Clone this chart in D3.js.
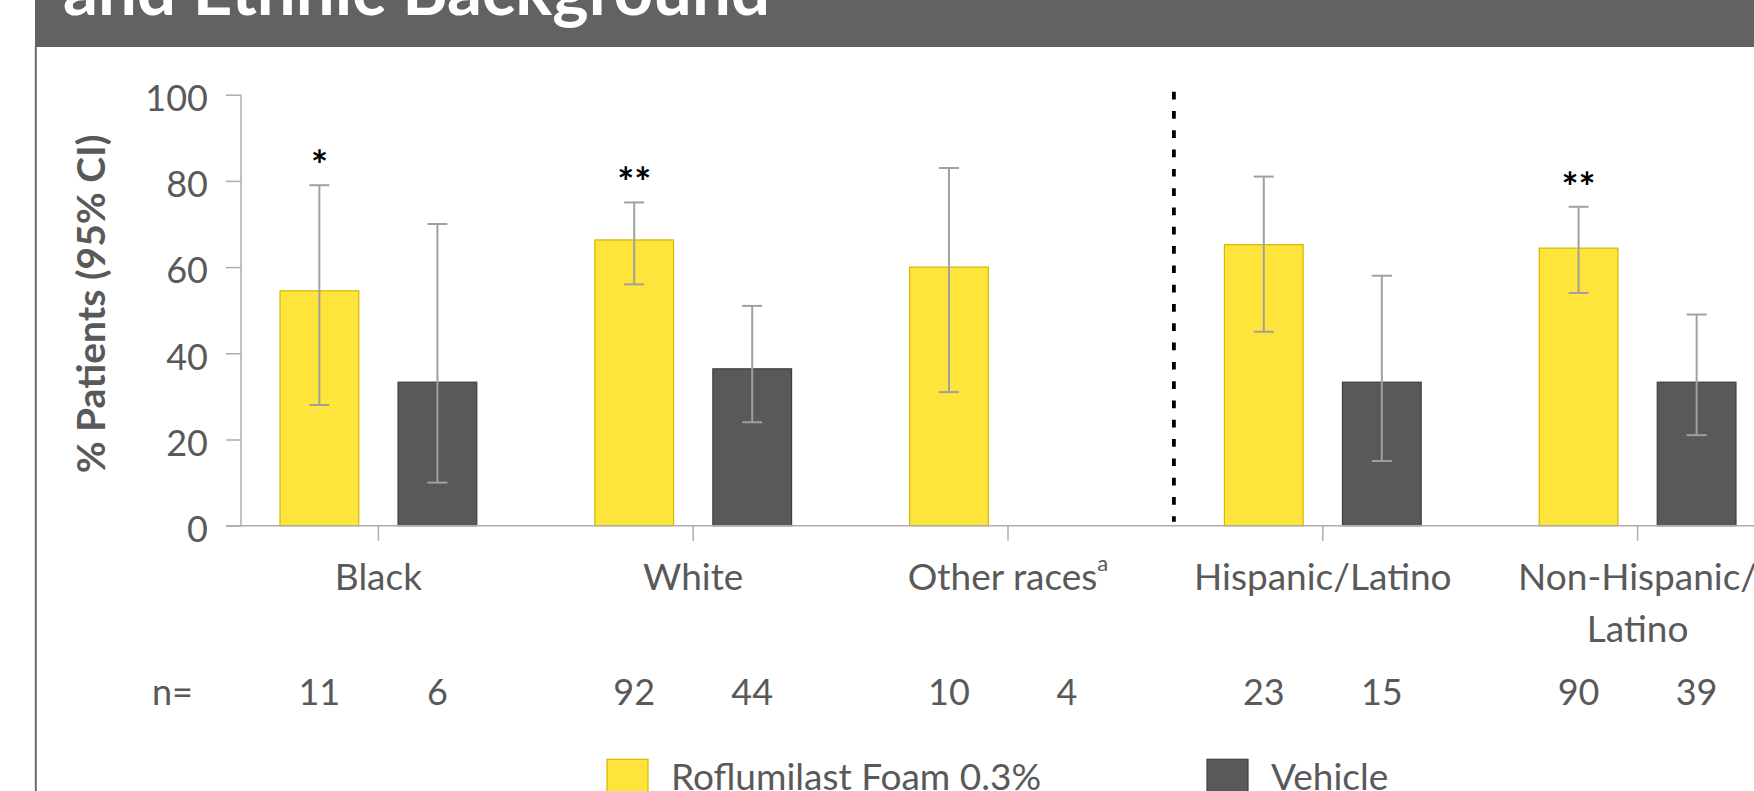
<!DOCTYPE html>
<html>
<head>
<meta charset="utf-8">
<script src="https://cdn.jsdelivr.net/npm/d3@7/dist/d3.min.js"></script>
<style>
  html, body { margin: 0; padding: 0; background: #fff; }
  svg { display: block; }
  text { font-family: Lato, "Open Sans", sans-serif; }
</style>
</head>
<body>
<svg id="chart" width="1754" height="791"></svg>
<script>
// Response rate by racial and ethnic subgroup, with 95% confidence intervals
const categories = ["Black", "White", "Other races", "Hispanic/Latino", "Non-Hispanic/Latino"];
const categoryLines = [["Black"], ["White"], ["Other races"], ["Hispanic/Latino"], ["Non-Hispanic/", "Latino"]];
const categorySuperscripts = ["", "", "a", "", ""];

const seriesNames = ["Roflumilast Foam 0.3%", "Vehicle"];
const roflumilast = [54.5, 66.3, 60.0, 65.2, 64.4];
const roflumilastLow = [28, 56, 31, 45, 54];
const roflumilastHigh = [79, 75, 83, 81, 74];
const vehicle = [33.3, 36.4, null, 33.3, 33.3];
const vehicleLow = [10, 24, null, 15, 21];
const vehicleHigh = [70, 51, null, 58, 49];

const nRoflumilast = [11, 92, 10, 23, 90];
const nVehicle = [6, 44, 4, 15, 39];
const significance = ["*", "**", "", "", "**"];

const yTicks = [0, 20, 40, 60, 80, 100];

const titleText = "and Ethnic Background";
const yTitle = "% Patients (95% CI)";

const colors = { roflumilast: "#FFE53B", vehicle: "#595959" };
const strokes = { roflumilast: "#D2B800", vehicle: "#3F3F3F" };
const textGray = "#595959";
const axisGray = "#ADADAD";
const errGray = "#A0A0A0";

const svg = d3.select("#chart");

// Header band and frame
svg.append("rect").attr("x", 35).attr("y", 0).attr("width", 1719).attr("height", 47).attr("fill", "#626262");
svg.append("line").attr("x1", 35.8).attr("x2", 35.8).attr("y1", 46).attr("y2", 791)
  .attr("stroke", "#6A6A6A").attr("stroke-width", 2);
svg.append("text").attr("x", 63).attr("y", 15)
  .attr("fill", "#fff").attr("font-weight", 700).attr("font-size", 69)
  .text(titleText);

// Scales
const x = d3.scaleBand().domain(categories).range([221, 1795]).paddingInner(0).paddingOuter(0);
const xs = d3.scaleBand().domain(["roflumilast", "vehicle"]).range([0, x.bandwidth()])
  .paddingInner(0.333).paddingOuter(0.5);
const y = d3.scaleLinear().domain([0, 100]).range([525.7, 94.7]);

const rows = categories.map((c, i) => ({
  cat: c, i,
  bars: [
    { key: "roflumilast", v: roflumilast[i], lo: roflumilastLow[i], hi: roflumilastHigh[i] },
    { key: "vehicle", v: vehicle[i], lo: vehicleLow[i], hi: vehicleHigh[i] }
  ]
}));

// Y axis
const yAxis = d3.axisLeft(y).tickValues(yTicks).tickSize(15).tickPadding(18);
const gy = svg.append("g").attr("transform", "translate(241,0)").call(yAxis);
gy.select(".domain").attr("stroke", axisGray).attr("stroke-width", 1.5).attr("d", `M0,${y(100)}V${y(0)}`);
gy.selectAll(".tick line").attr("stroke", axisGray).attr("stroke-width", 1.5);
gy.selectAll(".tick text").attr("fill", textGray).attr("font-size", 36).attr("dy", "0.44em")
  .style("font-family", "Lato, sans-serif");

// Y title
svg.append("text")
  .attr("transform", "translate(105,304) rotate(-90)")
  .attr("text-anchor", "middle").attr("fill", textGray).attr("font-weight", 700).attr("font-size", 39)
  .text(yTitle);

// Bars
const groups = svg.append("g").selectAll("g").data(rows).join("g")
  .attr("transform", d => `translate(${x(d.cat)},0)`);

groups.selectAll("rect").data(d => d.bars.filter(b => b.v != null)).join("rect")
  .attr("x", b => xs(b.key)).attr("width", xs.bandwidth())
  .attr("y", b => y(b.v)).attr("height", b => y(0) - y(b.v))
  .attr("fill", b => colors[b.key]).attr("stroke", b => strokes[b.key]).attr("stroke-width", 1.2);

// X axis line and ticks at category centres
const gx = svg.append("g").attr("transform", `translate(0,${y(0)})`);
gx.append("line").attr("x1", 226).attr("x2", 1754).attr("y1", 0).attr("y2", 0)
  .attr("stroke", axisGray).attr("stroke-width", 1.5);
gx.selectAll("line.tick").data(categories).join("line").attr("class", "tick")
  .attr("x1", c => x(c) + x.bandwidth() / 2).attr("x2", c => x(c) + x.bandwidth() / 2)
  .attr("y1", 0).attr("y2", 15).attr("stroke", axisGray).attr("stroke-width", 1.5);

// Error bars
const err = groups.selectAll("g.err").data(d => d.bars.filter(b => b.lo != null)).join("g").attr("class", "err")
  .attr("transform", b => `translate(${xs(b.key) + xs.bandwidth() / 2},0)`);
err.append("line").attr("y1", b => y(b.lo)).attr("y2", b => y(b.hi))
  .attr("stroke", errGray).attr("stroke-width", 2);
err.selectAll("line.cap").data(b => [b.lo, b.hi]).join("line").attr("class", "cap")
  .attr("x1", -10).attr("x2", 10).attr("y1", v => y(v)).attr("y2", v => y(v))
  .attr("stroke", errGray).attr("stroke-width", 2);

// Significance markers
groups.append("text")
  .attr("x", xs("roflumilast") + xs.bandwidth() / 2)
  .attr("y", d => y(roflumilastHigh[d.i]) - 5)
  .attr("text-anchor", "middle").attr("font-size", 40).attr("font-weight", 700).attr("fill", "#000")
  .text(d => significance[d.i]);

// Divider between race and ethnicity groups
const divX = x("Hispanic/Latino") + 8.5;
svg.append("line").attr("x1", divX).attr("x2", divX).attr("y1", y(100) - 3).attr("y2", y(0) - 4)
  .attr("stroke", "#000").attr("stroke-width", 3.8).attr("stroke-dasharray", "7.7 11.6");

// Category labels
const labels = svg.append("g").selectAll("text").data(rows).join("text")
  .attr("text-anchor", "middle").attr("fill", textGray).attr("font-size", 37)
  .attr("transform", d => `translate(${x(d.cat) + x.bandwidth() / 2},590)`);
labels.each(function (d) {
  const t = d3.select(this);
  categoryLines[d.i].forEach((line, k) => {
    t.append("tspan").attr("x", 0).attr("y", k * 52).text(line);
  });
  if (categorySuperscripts[d.i]) {
    t.append("tspan").attr("dy", -19).attr("font-size", 22).text(categorySuperscripts[d.i]);
  }
});

// Sample sizes
svg.append("text").attr("x", 193).attr("y", 705).attr("text-anchor", "end")
  .attr("fill", textGray).attr("font-size", 36).text("n=");
const nRow = svg.append("g");
rows.forEach(d => {
  [["roflumilast", nRoflumilast[d.i]], ["vehicle", nVehicle[d.i]]].forEach(([k, n]) => {
    nRow.append("text").attr("x", x(d.cat) + xs(k) + xs.bandwidth() / 2).attr("y", 705)
      .attr("text-anchor", "middle").attr("fill", textGray).attr("font-size", 36).text(n);
  });
});

// Legend
const legendItems = [
  { key: "roflumilast", name: seriesNames[0], x: 607 },
  { key: "vehicle", name: seriesNames[1], x: 1207 }
];
const lg = svg.append("g").selectAll("g").data(legendItems).join("g")
  .attr("transform", d => `translate(${d.x},759.3)`);
lg.append("rect").attr("width", 41).attr("height", 41)
  .attr("fill", d => colors[d.key]).attr("stroke", d => strokes[d.key]).attr("stroke-width", 1.2);
lg.append("text").attr("x", 64).attr("y", 31).attr("fill", textGray).attr("font-size", 37)
  .text(d => d.name);
</script>
</body>
</html>
